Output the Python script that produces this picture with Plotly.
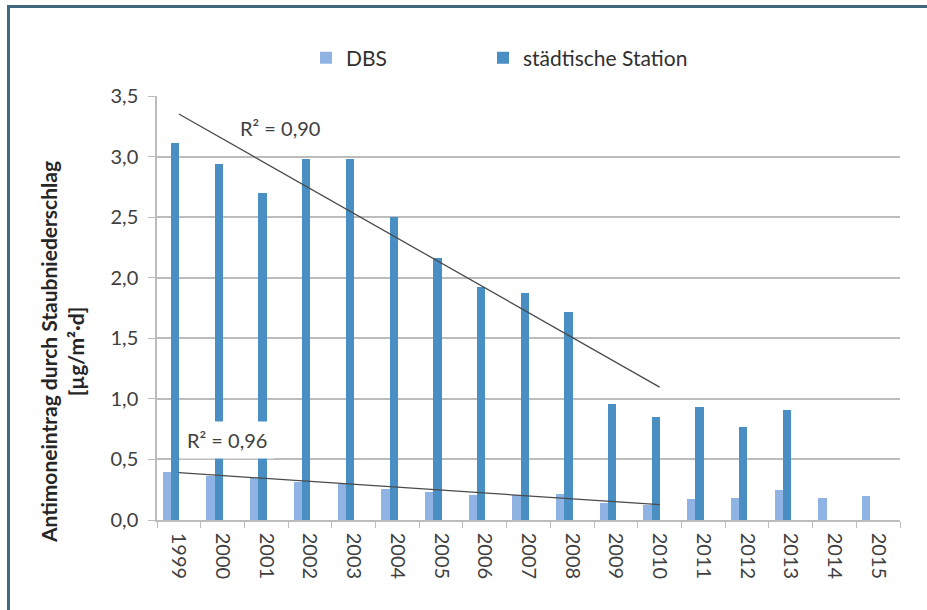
import numpy as np
import plotly.graph_objects as go

# Annual antimony deposition via dust fall, two measuring programmes
years = ["1999", "2000", "2001", "2002", "2003", "2004", "2005", "2006", "2007",
         "2008", "2009", "2010", "2011", "2012", "2013", "2014", "2015"]
dbs = [0.40, 0.365, 0.35, 0.315, 0.30, 0.254, 0.232, 0.205, 0.205,
       0.213, 0.141, 0.124, 0.17, 0.18, 0.246, 0.18, 0.196]
station = [3.11, 2.94, 2.70, 2.98, 2.98, 2.50, 2.16, 1.92, 1.87,
           1.72, 0.96, 0.85, 0.93, 0.77, 0.91, None, None]

# linear trends are fitted over 1999-2010
trend_n = 12
r2_station_label = "R² = 0,90"
r2_dbs_label = "R² = 0,96"

FONT = "Lato"
TXT = "#404040"
GRID = "#bcbcbc"
C_DBS = "#8fb4e3"
C_STA = "#4a8fc3"
FRAME = "#41687f"

W, H = 927, 610
ML, MR, MT, MB = 157, 27, 96, 90
PW, PH = W - ML - MR, H - MT - MB


def px_x(px):
    return (px - ML) / PW


def px_y(py):
    return (H - MB - py) / PH


def trend(values):
    xs = np.arange(trend_n)
    ys = np.array(values[:trend_n], dtype=float)
    k, d = np.polyfit(xs, ys, 1)
    return [d, d + k * (trend_n - 1)]


fig = go.Figure()
fig.add_trace(go.Bar(x=years, y=dbs, name="DBS", marker_color=C_DBS,
                     marker_line_width=0, width=0.19, offset=-0.37, legend="legend"))
fig.add_trace(go.Bar(x=years, y=station, name="städtische Station", marker_color=C_STA,
                     marker_line_width=0, width=0.19, offset=-0.18, legend="legend2"))

for vals in (station, dbs):
    fig.add_trace(go.Scatter(x=[years[0], years[trend_n - 1]], y=trend(vals),
                             mode="lines", line=dict(color="#4a4a4a", width=1.3),
                             showlegend=False, hoverinfo="skip"))

legend_style = dict(orientation="h", xanchor="left", yanchor="middle", y=px_y(58),
                    font=dict(family=FONT, size=21, color="#303030"),
                    bgcolor="rgba(0,0,0,0)")

fig.update_layout(
    width=W, height=H,
    margin=dict(l=ML, r=MR, t=MT, b=MB),
    paper_bgcolor="white", plot_bgcolor="white",
    separators=",.",
    font=dict(family=FONT, size=20, color=TXT),
    bargap=0, barmode="overlay",
    legend=dict(x=px_x(306), **legend_style),
    legend2=dict(x=px_x(483), **legend_style),
    xaxis=dict(type="category", tickangle=90, ticks="outside", tickson="boundaries",
               ticklen=6, tickcolor=GRID, showline=True, linecolor=GRID, linewidth=1.5,
               showgrid=False, ticklabelstandoff=7,
               tickfont=dict(family=FONT, size=20, color=TXT)),
    yaxis=dict(range=[0, 3.5], dtick=0.5, tickformat=".1f", ticks="outside", ticklen=7,
               tickcolor=GRID, showline=True, linecolor=GRID, linewidth=1.5,
               gridcolor=GRID, gridwidth=1.5, zeroline=False, ticklabelstandoff=6,
               tickfont=dict(family=FONT, size=20, color=TXT)),
    showlegend=True,
)

fig.add_annotation(text="<b>Antimoneintrag durch Staubniederschlag<br>[µg/m²·d]</b>",
                   xref="paper", yref="paper", x=px_x(62), y=px_y(352),
                   textangle=-90, showarrow=False, xanchor="center", yanchor="middle",
                   font=dict(family=FONT, size=21, color="#262626"))

fig.add_annotation(text=r2_station_label, xref="x", yref="y", x=2.32, y=3.236,
                   showarrow=False, font=dict(family=FONT, size=20, color=TXT))
fig.add_annotation(text=r2_dbs_label, xref="x", yref="y", x=1.10, y=0.66,
                   showarrow=False, bgcolor="white", borderpad=6,
                   font=dict(family=FONT, size=20, color=TXT))

fig.add_shape(type="rect", xref="paper", yref="paper",
              x0=px_x(8.5), x1=px_x(W + 20), y0=px_y(H + 20), y1=px_y(6.5),
              line=dict(color=FRAME, width=3), fillcolor="rgba(0,0,0,0)", layer="above")

fig.write_html("out.html")
